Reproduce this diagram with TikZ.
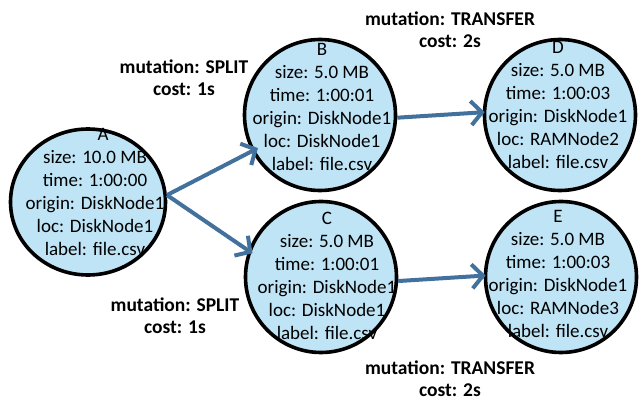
\documentclass[tikz,border=0pt]{standalone}
\usepackage{fontspec}
\setmainfont{Carlito}
\usetikzlibrary{arrows.meta,shapes.geometric}
\definecolor{fillblue}{RGB}{190,228,246}
\definecolor{arrowblue}{RGB}{65,113,156}
\begin{document}
\begin{tikzpicture}[x=1pt,y=-1pt,
  state/.style={ellipse, draw=black, line width=3.6pt, fill=fillblue, minimum width=151pt, minimum height=151pt, inner sep=0pt},
  info/.style={align=center, font=\fontsize{19}{23}\selectfont, inner sep=0pt},
  mut/.style={align=center, font=\fontsize{19.5}{22}\selectfont\bfseries, inner sep=0pt},
  link/.style={draw=arrowblue, line width=4pt, -{Straight Barb[length=11pt,width=24pt]}}]
\useasboundingbox (0,0) rectangle (641,401);
\fill[white] (0,0) rectangle (641,401);

\node[state, minimum width=155pt, minimum height=146pt] (A) at (88,202) {};
\node[state] (B) at (320,115) {};
\node[state] (C) at (321,277) {};
\node[state] (D) at (560,115) {};
\node[state] (E) at (561,277) {};

\node[info] (tA) at (95,192) {\hspace*{16pt}A\\size: 10.0 MB\\time: 1:00:00\\origin: DiskNode1\\loc: DiskNode1\\label: file.csv};
\node[info] (tB) at (322,107) {B\\size: 5.0 MB\\time: 1:00:01\\origin: DiskNode1\\loc: DiskNode1\\label: file.csv};
\node[info] (tC) at (327,276) {C\\size: 5.0 MB\\time: 1:00:01\\origin: DiskNode1\\loc: DiskNode1\\label: file.csv};
\node[info] (tD) at (558,105) {D\\size: 5.0 MB\\time: 1:00:03\\origin: DiskNode1\\loc: RAMNode2\\label: file.csv};
\node[info] (tE) at (558,274) {E\\size: 5.0 MB\\time: 1:00:03\\origin: DiskNode1\\loc: RAMNode3\\label: file.csv};

\node[mut] (m1) at (184,78) {mutation: SPLIT\\cost: 1s};
\node[mut] (m2) at (450,30) {mutation: TRANSFER\\cost: 2s};
\node[mut] (m3) at (175,316) {mutation: SPLIT\\cost: 1s};
\node[mut] (m4) at (450,379) {mutation: TRANSFER\\cost: 2s};

\draw[link, shorten >=-7pt] (A.5) -- (B.208);
\draw[link, shorten >=-5pt] (A.5) -- (C.160);
\draw[link, shorten >=-2pt] (B.-2) -- (D.178);
\draw[link, shorten >=-2pt] (C.-3) -- (E.179);
\end{tikzpicture}
\end{document}
